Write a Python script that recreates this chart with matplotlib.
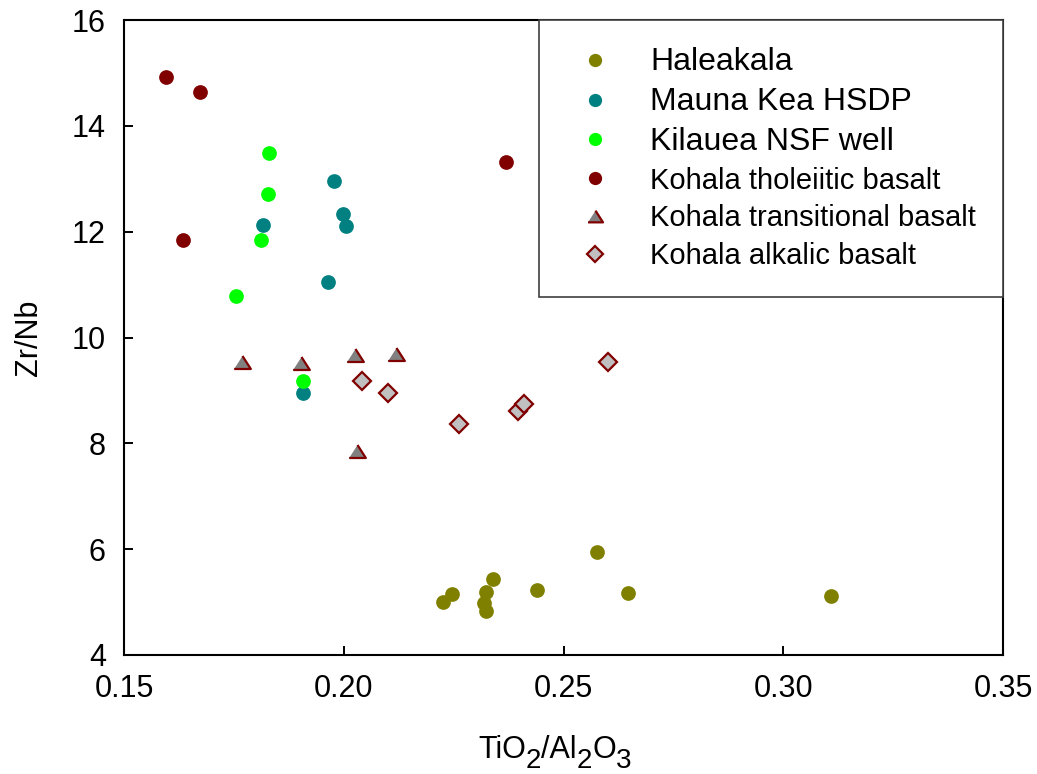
import matplotlib
matplotlib.use("Agg")
import matplotlib.pyplot as plt
from matplotlib.lines import Line2D

plt.rcParams['font.family'] = ['Liberation Sans', 'DejaVu Sans']

# TiO2/Al2O3 vs Zr/Nb for Hawaiian basalt suites
haleakala_x = [0.2225, 0.2246, 0.2324, 0.2320, 0.2324, 0.2340, 0.2439, 0.2576, 0.2646, 0.3108]
haleakala_y = [5.01, 5.15, 5.20, 4.99, 4.84, 5.43, 5.23, 5.94, 5.18, 5.11]

mauna_kea_x = [0.1977, 0.1998, 0.2006, 0.1816, 0.1964, 0.1908]
mauna_kea_y = [12.96, 12.33, 12.11, 12.13, 11.04, 8.96]

kilauea_x = [0.1831, 0.1827, 0.1812, 0.1754, 0.1908]
kilauea_y = [13.49, 12.72, 11.84, 10.79, 9.18]

thol_x = [0.1596, 0.1673, 0.1634, 0.2369]
thol_y = [14.92, 14.64, 11.84, 13.32]

trans_x = [0.1768, 0.1903, 0.2025, 0.2118, 0.2031]
trans_y = [9.54, 9.52, 9.66, 9.68, 7.85]

alk_x = [0.2042, 0.2101, 0.2262, 0.2397, 0.2409, 0.2602]
alk_y = [9.18, 8.96, 8.37, 8.61, 8.74, 9.54]

labels = ["Haleakala", "Mauna Kea HSDP", "Kilauea NSF well",
          "Kohala tholeiitic basalt", "Kohala transitional basalt",
          "Kohala alkalic basalt"]

x_ticks = [0.15, 0.20, 0.25, 0.30, 0.35]
y_ticks = [4, 6, 8, 10, 12, 14, 16]

fig = plt.figure(figsize=(10.37, 7.74), dpi=100)
ax = fig.add_axes([124 / 1037, 119 / 774, 879 / 1037, 635 / 774])

tri = [(-1, -0.78), (1, -0.78), (0, 0.78)]
edge = '#800000'

styles = [
    dict(marker='o', ms=10.6, mfc='#808000', mec='#808000', mew=0),
    dict(marker='o', ms=10.6, mfc='#008080', mec='#008080', mew=0),
    dict(marker='o', ms=10.6, mfc='#00FF00', mec='#00FF00', mew=0),
    dict(marker='o', ms=10.6, mfc='#800000', mec='#800000', mew=0),
    dict(marker=tri, ms=12.0, mfc='#808080', mec=edge, mew=1.6),
    dict(marker='D', ms=8.8, mfc='#C0C0C0', mec=edge, mew=1.6),
]
series = [(haleakala_x, haleakala_y), (mauna_kea_x, mauna_kea_y),
          (kilauea_x, kilauea_y), (thol_x, thol_y),
          (trans_x, trans_y), (alk_x, alk_y)]

for (xs, ys), st in zip(series, styles):
    ax.plot(xs, ys, linestyle='none', zorder=3, **st)

ax.set_xlim(0.15, 0.35)
ax.set_ylim(4, 16)
ax.set_xticks(x_ticks)
ax.set_xticklabels([f"{v:.2f}" for v in x_ticks])
ax.set_yticks(y_ticks)
ax.set_yticklabels([str(v) for v in y_ticks])
ax.tick_params(axis='both', direction='in', length=6.5, width=1.4,
               labelsize=22, top=False, right=False)
ax.tick_params(axis='x', pad=14)
ax.tick_params(axis='y', pad=13)
for sp in ax.spines.values():
    sp.set_linewidth(1.5)

ax.set_ylabel("Zr/Nb", fontsize=22, labelpad=20)

# x label with subscripts built from chained text pieces
pieces = [("TiO", 22, 0), ("2", 20, -7), ("/Al", 22, 7), ("2", 20, -7),
          ("O", 22, 7), ("3", 20, -7)]
prev = fig.text(478 / 1037, 0.021, pieces[0][0], fontsize=pieces[0][1],
                ha='left', va='baseline')
for txt, fs, dy in pieces[1:]:
    prev = ax.annotate(txt, xy=(1, 0), xycoords=prev, xytext=(0, dy),
                       textcoords='offset points', fontsize=fs,
                       ha='left', va='bottom', annotation_clip=False)

handles = [Line2D([], [], linestyle='none', **st) for st in styles]
for h in handles:
    h.set_markersize(h.get_markersize() * 0.9)
leg = ax.legend(handles, labels, loc='upper right', bbox_to_anchor=(1, 1),
                borderaxespad=0, fontsize=21, frameon=True, fancybox=False,
                framealpha=1, edgecolor='#404040', borderpad=0.92,
                handlelength=2.0, handletextpad=0.9, labelspacing=0.34)
leg.get_frame().set_linewidth(1.2)
for i, t in enumerate(leg.get_texts()):
    if i < 3:
        t.set_fontsize(23)

fig.savefig("out.png", dpi=100)
